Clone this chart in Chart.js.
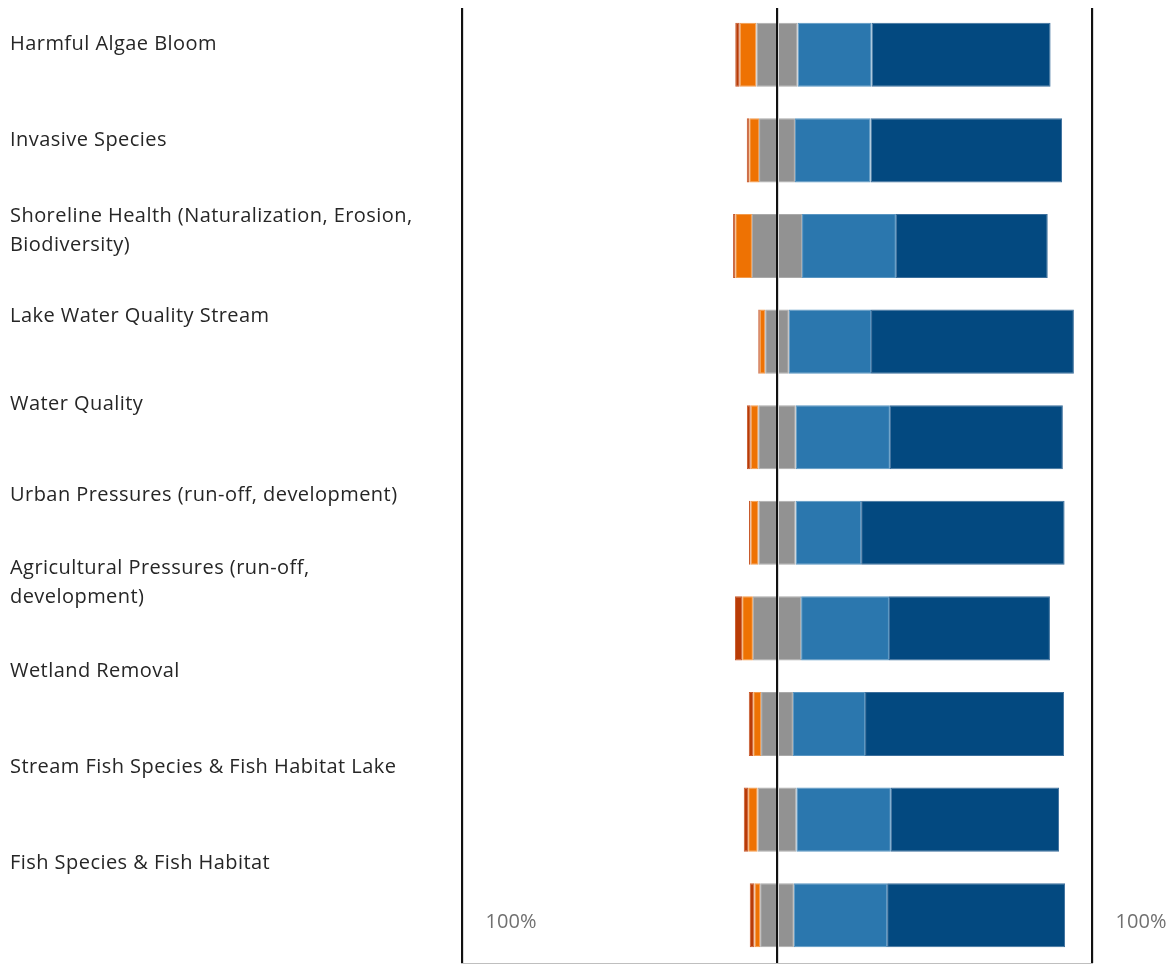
<!DOCTYPE html>
<html>
<head>
<meta charset="utf-8">
<script src="https://cdn.jsdelivr.net/npm/chart.js@4/dist/chart.umd.min.js"></script>
<style>
    html, body {
        margin: 0;
        padding: 0;
        background: #ffffff;
    }
    #wrap {
        position: relative;
        width: 1175px;
        height: 965px;
    }
    #grafico {
        position: absolute;
        left: 0;
        top: 0;
    }
    .etichetta {
        position: absolute;
        left: 10px;
        width: 445px;
        font-family: "Open Sans", "Noto Sans", sans-serif;
        font-size: 20px;
        letter-spacing: 0.45px;
        line-height: 29px;
        color: #262626;
    }
</style>
</head>
<body>
<div id="wrap">
    <canvas id="grafico" width="1175" height="965"></canvas>
</div>
<script>
const categorie = [
    "Harmful Algae Bloom",
    "Invasive Species",
    "Shoreline Health (Naturalization, Erosion, Biodiversity)",
    "Lake Water Quality Stream",
    "Water Quality",
    "Urban Pressures (run-off, development)",
    "Agricultural Pressures (run-off, development)",
    "Wetland Removal",
    "Stream Fish Species & Fish Habitat Lake",
    "Fish Species & Fish Habitat"
];

// quote percentuali per ogni voce (la somma fa circa 100)
const moltoNegativo = [1.4, 0.8, 0.7, 0.5, 1.2, 0.5, 2.3, 1.4, 1.4, 1.5];
const negativo = [5.3, 3.1, 5.3, 1.7, 2.4, 2.5, 3.4, 2.5, 3.0, 1.8];
const neutro = [13.1, 11.4, 15.9, 7.5, 11.9, 11.8, 15.3, 10.1, 12.3, 10.7];
const positivo = [23.5, 24.0, 29.8, 26.1, 29.9, 20.8, 27.9, 22.9, 30.0, 29.6];
const moltoPositivo = [56.8, 60.8, 48.2, 64.4, 54.9, 64.6, 51.1, 63.2, 53.4, 56.5];

const etichetteAsse = ["100%", "100%"];

// righe di testo a sinistra: centro verticale della prima riga
const righeEtichette = [
    ["Harmful Algae Bloom"],
    ["Invasive Species"],
    ["Shoreline Health (Naturalization, Erosion,", "Biodiversity)"],
    ["Lake Water Quality Stream"],
    ["Water Quality"],
    ["Urban Pressures (run-off, development)"],
    ["Agricultural Pressures (run-off,", "development)"],
    ["Wetland Removal"],
    ["Stream Fish Species & Fish Habitat Lake"],
    ["Fish Species & Fish Habitat"]
];
const centriEtichette = [42, 138, 214, 314, 402, 493, 566, 669, 765, 861];

const wrap = document.getElementById("wrap");
righeEtichette.forEach((righe, i) => {
    const div = document.createElement("div");
    div.className = "etichetta";
    div.style.top = (centriEtichette[i] - 14.5) + "px";
    div.innerHTML = righe.map((r) => r.replace(/&/g, "&amp;")).join("<br>");
    wrap.appendChild(div);
});

function serie(label, valori, colore, bordo, segno) {
    return {
        label: label,
        data: valori.map((v) => v * segno),
        backgroundColor: colore,
        borderColor: bordo,
        borderWidth: 1,
        borderSkipped: false,
        barPercentage: 0.67,
        categoryPercentage: 1
    };
}

// linee verticali, linea di base e le scritte 100%
const pluginAssi = {
    id: "assi",
    afterDatasetsDraw(chart) {
        const ctx = chart.ctx;
        const x = chart.scales.x;
        const alto = 8;
        const basso = 963;

        ctx.save();
        ctx.strokeStyle = "#bfbfbf";
        ctx.lineWidth = 1;
        ctx.beginPath();
        ctx.moveTo(x.getPixelForValue(-100) - 1, basso + 0.5);
        ctx.lineTo(x.getPixelForValue(100) + 1, basso + 0.5);
        ctx.stroke();

        [-100, 0, 100].forEach((v) => {
            const px = Math.round(x.getPixelForValue(v));
            ctx.fillStyle = "#d9d9d9";
            ctx.fillRect(px + 1, alto, 1, basso - alto);
            ctx.fillStyle = "#111111";
            ctx.fillRect(px - 1, alto, 2, basso - alto);
        });

        ctx.fillStyle = "#707070";
        ctx.font = "20px 'Open Sans', 'Noto Sans', sans-serif";
        ctx.textAlign = "center";
        ctx.textBaseline = "middle";
        ctx.fillText(etichetteAsse[0], x.getPixelForValue(-100) + 49, 922);
        ctx.fillText(etichetteAsse[1], x.getPixelForValue(100) + 49, 922);
        ctx.restore();
    }
};

const ctx = document.getElementById("grafico").getContext("2d");

new Chart(ctx, {
    type: "bar",
    data: {
        labels: categorie,
        datasets: [
            serie("Neutro (sx)", neutro.map((v) => v / 2), "#929292", "#aaaaaa", -1),
            serie("Negativo", negativo, "#ee7203", "#f29a4c", -1),
            serie("Molto negativo", moltoNegativo, "#b93b06", "#c85a2c", -1),
            serie("Neutro (dx)", neutro.map((v) => v / 2), "#929292", "#aaaaaa", 1),
            serie("Positivo", positivo, "#2b77ae", "#5a96c2", 1),
            serie("Molto positivo", moltoPositivo, "#034980", "#3c6f9c", 1)
        ]
    },
    options: {
        indexAxis: "y",
        responsive: false,
        animation: false,
        layout: {
            padding: { left: 462, right: 83, top: 7, bottom: 2 }
        },
        plugins: {
            legend: { display: false },
            tooltip: { enabled: false }
        },
        scales: {
            x: {
                stacked: true,
                min: -100,
                max: 100,
                display: false
            },
            y: {
                stacked: true,
                display: false
            }
        }
    },
    plugins: [pluginAssi]
});
</script>
</body>
</html>
